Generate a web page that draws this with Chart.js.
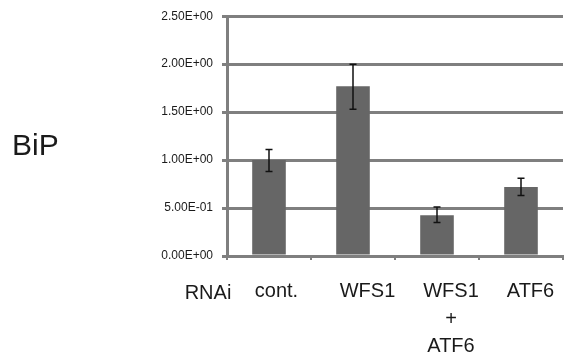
<!DOCTYPE html>
<html>
<head>
<meta charset="utf-8">
<script src="https://cdn.jsdelivr.net/npm/chart.js@4/dist/chart.umd.min.js"></script>
<style>
  html, body { margin: 0; padding: 0; background: #fff; }
  #wrap { position: relative; width: 564px; height: 358px; }
</style>
</head>
<body>
<div id="wrap"><canvas id="bipChart"></canvas></div>
<script>
/* ── Data ─────────────────────────────────────── */
const categories = [['cont.'], ['WFS1'], ['WFS1', '+', 'ATF6'], ['ATF6']];
const values = [1.0, 1.77, 0.425, 0.72];
const errLow = [0.88, 1.53, 0.35, 0.63];
const errHigh = [1.11, 2.0, 0.51, 0.81];
const yTickLabels = ['0.00E+00', '5.00E-01', '1.00E+00', '1.50E+00', '2.00E+00', '2.50E+00'];

const grey = '#7f7f7f';

/* ── Error bars + extra text ──────────────────── */
const errorBars = {
    id: 'errorBars',
    afterDatasetsDraw(chart) {
        const { ctx, scales: { x, y } } = chart;
        ctx.save();
        ctx.strokeStyle = '#111';
        ctx.lineWidth = 1.5;
        values.forEach((v, i) => {
            const px = x.getPixelForValue(i);
            const top = y.getPixelForValue(errHigh[i]);
            const bot = y.getPixelForValue(errLow[i]);
            ctx.beginPath();
            ctx.moveTo(px, top); ctx.lineTo(px, bot);
            ctx.moveTo(px - 3.5, top); ctx.lineTo(px + 3.5, top);
            ctx.moveTo(px - 3.5, bot); ctx.lineTo(px + 3.5, bot);
            ctx.stroke();
        });
        ctx.restore();
    },
};

// labels in the figure sit a bit right of the bar centres
const labelShift = [7.5, 14.5, 14, 9.5];

const sideText = {
    id: 'sideText',
    afterDraw(chart) {
        const { ctx, scales: { x } } = chart;
        ctx.save();
        ctx.fillStyle = '#1a1a1a';
        ctx.textBaseline = 'alphabetic';
        ctx.textAlign = 'center';
        ctx.font = '20px "Liberation Sans", Arial, sans-serif';
        categories.forEach((lines, i) => {
            const px = x.getPixelForValue(i) + labelShift[i];
            lines.forEach((t, j) => ctx.fillText(t, px, 297 + j * 27.5));
        });
        ctx.fillText('RNAi', 208, 299);
        ctx.font = '30px "Liberation Sans", Arial, sans-serif';
        ctx.textAlign = 'left';
        ctx.fillText('BiP', 12, 155);
        ctx.restore();
    },
};

new Chart(document.getElementById('bipChart'), {
    type: 'bar',
    data: {
        labels: categories,
        datasets: [{
            data: values,
            backgroundColor: '#666666',
            barPercentage: 0.4,
            categoryPercentage: 1,
        }],
    },
    options: {
        responsive: true,
        maintainAspectRatio: false,
        animation: false,
        layout: {
            padding: { top: 15, right: 1, left: 0, bottom: 0 },
        },
        plugins: {
            legend: { display: false },
            tooltip: { enabled: false },
        },
        scales: {
            x: {
                grid: {
                    display: true,
                    drawOnChartArea: false,
                    drawTicks: true,
                    tickLength: 4,
                    color: grey,
                    lineWidth: 2,
                    offset: true,
                },
                border: { color: grey, width: 3 },
                ticks: { display: false },
                afterFit: (s) => { s.height = 102; },
            },
            y: {
                min: 0,
                max: 2.5,
                grid: {
                    color: grey,
                    lineWidth: 3,
                    tickLength: 5,
                },
                border: { color: grey, width: 3 },
                ticks: {
                    stepSize: 0.5,
                    color: '#1a1a1a',
                    padding: 9,
                    font: { family: '"Liberation Sans", Arial, sans-serif', size: 12 },
                    callback: (v, i) => yTickLabels[i],
                },
                afterFit: (s) => { s.width = 227; },
            },
        },
    },
    plugins: [errorBars, sideText],
});
</script>
</body>
</html>
